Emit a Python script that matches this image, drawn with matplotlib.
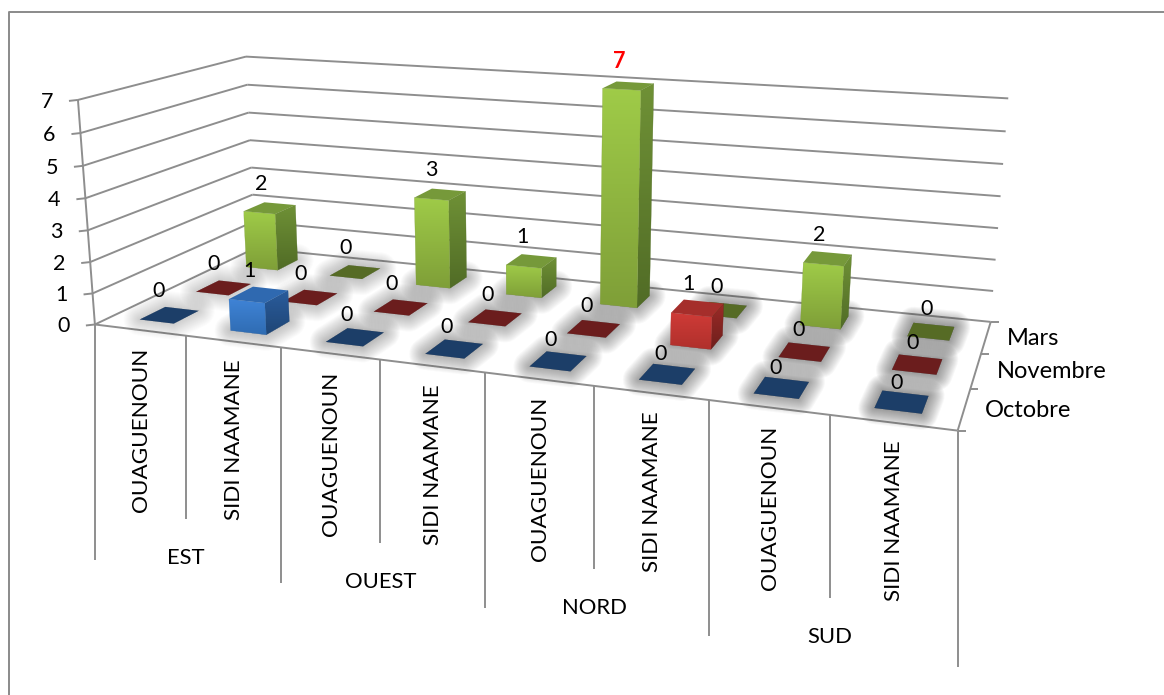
import numpy as np
import matplotlib
matplotlib.use("Agg")
import matplotlib.pyplot as plt
from matplotlib.patches import Polygon

# ---------- data ----------
groups = ["EST", "OUEST", "NORD", "SUD"]
categories = ["OUAGUENOUN", "SIDI NAAMANE"] * 4
series_names = ["Octobre", "Novembre", "Mars"]
octobre = [0, 1, 0, 0, 0, 0, 0, 0]
novembre = [0, 0, 0, 0, 0, 1, 0, 0]
mars = [2, 0, 3, 1, 7, 0, 2, 0]
value_ticks = [0, 1, 2, 3, 4, 5, 6, 7]

# ---------- projection: (category, series, value) -> canvas pixels ----------
W, H = 1164, 695
ANCHORS = [
    ((0, 0, 0), (96, 323)), ((0, 0, 7), (77, 100)),
    ((0, 3, 0), (254, 249)), ((0, 3, 7), (247, 56)),
    ((8, 3, 0), (991, 321)), ((8, 3, 7), (1008, 99)),
    ((8, 0, 0), (958, 431)), ((1, 0, 0), (186, 337)),
    ((2, 0, 0), (281, 348)), ((3, 0, 0), (380, 359)),
    ((4, 0, 0), (484, 372)), ((5, 0, 0), (595, 386)),
    ((6, 0, 0), (709, 400)), ((7, 0, 0), (830, 415)),
]
A = []
for (x, y, z), (u, v) in ANCHORS:
    A.append([x, y, z, 1, 0, 0, 0, 0, -u * x, -u * y, -u * z, -u])
    A.append([0, 0, 0, 0, x, y, z, 1, -v * x, -v * y, -v * z, -v])
P = np.linalg.svd(np.array(A, float))[2][-1].reshape(3, 4)


def proj(x, y, z):
    q = P @ np.array([x, y, z, 1.0])
    return q[0] / q[2], q[1] / q[2]


fig = plt.figure(figsize=(W / 100, H / 100), dpi=100)
ax = fig.add_axes([0, 0, 1, 1])
ax.set_xlim(0, W)
ax.set_ylim(H, 0)
ax.axis("off")

plt.rcParams["font.family"] = ["Lato", "DejaVu Sans"]
FS_NUM = 15.5
FS_SER = 17
FS_CAT = 16.2
FS_GRP = 15.8
GRID = "#8e8e8e"
LW = 1.4

# chart frame: only the top and left edges fall inside the picture
ax.plot([9, 9, W], [H, 12, 12], color="#8a8a8a", lw=1.4, zorder=1)


def seg(p, q, lw=LW, z=1):
    ax.plot([p[0], q[0]], [p[1], q[1]], color=GRID, lw=lw, zorder=z, solid_capstyle="butt")


# walls and floor
for v in value_ticks:
    a, b, c = proj(0, 0, v), proj(0, 3, v), proj(8, 3, v)
    seg(a, b)
    seg(b, c)
    seg((a[0] - 9, a[1] + 1), a)
    ax.text(a[0] - 31, a[1] + 2, str(v), ha="center", va="center", fontsize=FS_NUM, color="k", zorder=200)
seg(proj(0, 0, 0), proj(0, 0, 7))
seg(proj(0, 0, 0), proj(8, 0, 0))
seg(proj(8, 0, 0), proj(8, 3, 0))
for i in range(4):
    e = proj(8, i, 0)
    seg(e, (e[0] + 8, e[1]))
for i, name in enumerate(series_names):
    e = proj(8, i + 0.5, 0)
    ax.text(e[0] + 21, e[1] + 1, name, ha="left", va="center", fontsize=FS_SER, zorder=200)

# category axis brackets
tick_long = 236
tick_short = 183
for k in range(9):
    e = proj(k, 0, 0)
    ln = tick_long if k % 2 == 0 else tick_short
    seg(e, (e[0], e[1] + ln))
for k, name in enumerate(categories):
    e = proj(k + 0.5, 0, 0)
    ax.text(e[0] + 1, e[1] + 18, name, rotation=90, ha="center", va="top", fontsize=FS_CAT, zorder=200)
for g, name in enumerate(groups):
    e = proj(2 * g + 1, 0, 0)
    ax.text(e[0], e[1] + 222, name, ha="center", va="center", fontsize=FS_GRP, zorder=200)

# bars
BW = 0.19
BD = 0.22
STYLE = {
    "Octobre": dict(front=("#3f83d6", "#2f6cb2"), side=("#2a5c9c", "#1f4676"), top="#2f69b0", flat="#1c3e68"),
    "Novembre": dict(front=("#cf3b37", "#b0302c"), side=("#9c2b28", "#6e1f1c"), top="#a52e2b", flat="#6b1d1d"),
    "Mars": dict(front=("#9fcb48", "#7f9f38"), side=("#6f9136", "#516c26"), top="#76993a", flat="#566b25"),
}


def gradient_face(pts, c0, c1, z):
    poly = Polygon(pts, closed=True, fc="none", ec="none", zorder=z)
    ax.add_patch(poly)
    xs, ys = zip(*pts)
    cmap = matplotlib.colors.LinearSegmentedColormap.from_list("g", [c0, c1])
    im = ax.imshow(np.linspace(0, 1, 64)[:, None], cmap=cmap, aspect="auto",
                   extent=(min(xs), max(xs), max(ys), min(ys)), zorder=z, interpolation="bilinear")
    im.set_clip_path(poly)
    ax.add_patch(Polygon(pts, closed=True, fc="none", ec=c1, lw=0.2, zorder=z))


def shadow(pts, z, strength=1.0):
    for r in np.linspace(32, 2, 16):
        ax.add_patch(Polygon(pts, closed=True, fc="#404040", ec="#404040", lw=r * 0.72,
                             alpha=0.032 * strength, joinstyle="round", zorder=z))


rows = [("Mars", mars, 2.5), ("Novembre", novembre, 1.5), ("Octobre", octobre, 0.5)]
base = 5
for name, vals, yc in rows:
    st = STYLE[name]
    for k, v in enumerate(vals):
        xc = k + 0.5
        x0, x1, y0, y1 = xc - BW, xc + BW, yc - BD, yc + BD
        foot = [proj(x0, y0, 0), proj(x1, y0, 0), proj(x1, y1, 0), proj(x0, y1, 0)]
        shadow(foot, base, 0.55 + 0.1 * k)
        base += 0.01
    for k, v in enumerate(vals):
        xc = k + 0.5
        x0, x1, y0, y1 = xc - BW, xc + BW, yc - BD, yc + BD
        foot = [proj(x0, y0, 0), proj(x1, y0, 0), proj(x1, y1, 0), proj(x0, y1, 0)]
        base += 1
        if v == 0:
            ax.add_patch(Polygon(foot, closed=True, fc=st["flat"], ec="none", zorder=base))
        else:
            head = [proj(x0, y0, v), proj(x1, y0, v), proj(x1, y1, v), proj(x0, y1, v)]
            gradient_face([head[1], head[2], foot[2], foot[1]], *st["side"], base)
            gradient_face([head[0], head[1], foot[1], foot[0]], *st["front"], base + 0.1)
            ax.add_patch(Polygon(head, closed=True, fc=st["top"], ec="none", zorder=base + 0.2))
        c = proj(xc, yc, v)
        red = v == 7
        dx = -10.5 + 0.8 * k if v == 0 else -9
        dy = -24 + 0.7 * k * (3 - yc) / 2.5 if v == 0 else -24
        ax.text(c[0] + dx, c[1] + dy, str(v), ha="center", va="center", fontsize=FS_NUM,
                color="#ff0000" if red else "k", fontweight="bold" if red else "normal", zorder=200)

ax.set_xlim(0, W)
ax.set_ylim(H, 0)
fig.savefig("out.png", dpi=100, facecolor="white")
